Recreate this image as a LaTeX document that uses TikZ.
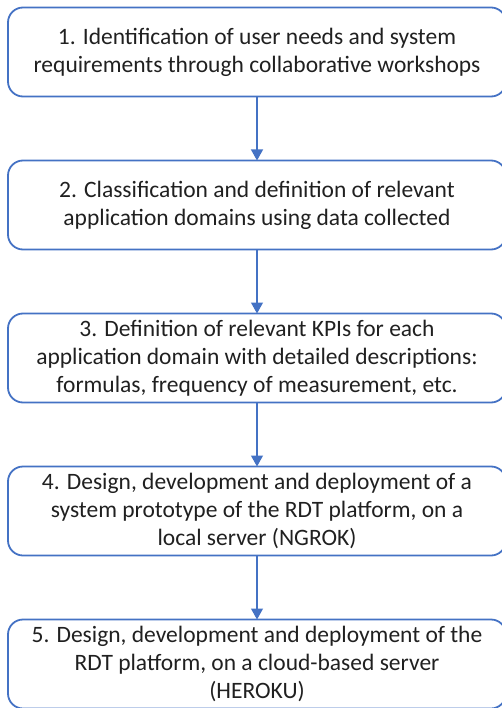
\documentclass[tikz,border=0pt]{standalone}
\usepackage{fontspec}
\setmainfont{Carlito}
\usetikzlibrary{positioning,arrows.meta}
\definecolor{boxblue}{HTML}{4472C4}
\definecolor{txtgray}{HTML}{202020}
\begin{document}
\begin{tikzpicture}[
    stepbox/.style={draw=boxblue, line width=1.8pt, rounded corners=15pt,
        minimum width=498pt, minimum height=89pt, inner sep=0pt, outer sep=0pt,
        align=center, text=txtgray, font=\fontsize{23.5}{28}\selectfont},
    flow/.style={boxblue, line width=1.2pt, -{Triangle[width=12pt,length=11pt]}},
    node distance=64pt
]
    \useasboundingbox (0,0) rectangle (501pt,-708pt);

    % the five stages
    \node[stepbox] (s1) at (257pt,-52pt)
        {1. Identification of user needs and system\\requirements through collaborative workshops};
    \node[stepbox, below=of s1] (s2)
        {2. Classification and definition of relevant\\application domains using data collected};
    \node[stepbox, below=of s2] (s3)
        {3. Definition of relevant KPIs for each\\application domain with detailed descriptions:\\formulas, frequency of measurement, etc.};
    \node[stepbox, below=of s3] (s4)
        {4. Design, development and deployment of a\\system prototype of the RDT platform, on a\\local server (NGROK)};
    \node[stepbox, below=of s4] (s5)
        {5. Design, development and deployment of the\\RDT platform, on a cloud-based server\\(HEROKU)};

    % arrows between stages
    \foreach \a/\b in {s1/s2, s2/s3, s3/s4, s4/s5}
        \draw[flow] (\a.south) -- (\b.north);
\end{tikzpicture}
\end{document}
